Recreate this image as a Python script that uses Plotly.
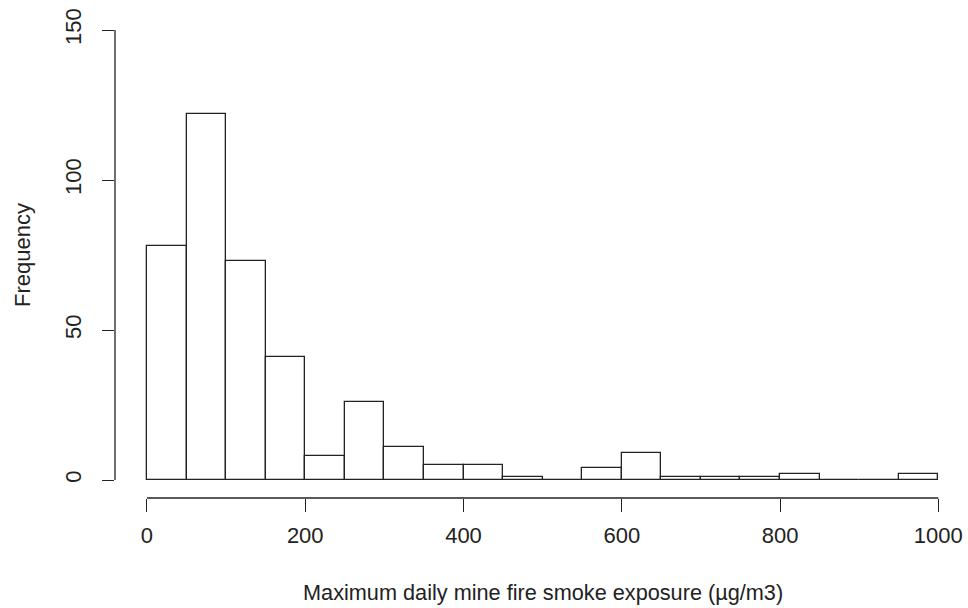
import plotly.graph_objects as go

bin_starts = [0, 50, 100, 150, 200, 250, 300, 350, 400, 450,
              500, 550, 600, 650, 700, 750, 800, 850, 900, 950]
bin_width = 50
counts = [78, 122, 73, 41, 8, 26, 11, 5, 5, 1,
          0, 4, 9, 1, 1, 1, 2, 0, 0, 2]
x_ticks = [0, 200, 400, 600, 800, 1000]
y_ticks = [0, 50, 100, 150]
x_title = "Maximum daily mine fire smoke exposure (µg/m3)"
y_title = "Frequency"

FONT = "Liberation Sans, Arial, sans-serif"
LINE = "#222222"
FS = 22

centers = [s + bin_width / 2 for s in bin_starts]

fig = go.Figure()
fig.add_trace(go.Bar(
    x=centers, y=counts, width=bin_width,
    marker=dict(color="white", line=dict(color=LINE, width=1.3)),
    hoverinfo="x+y", showlegend=False,
))

fig.update_layout(
    width=968, height=608,
    margin=dict(l=115, r=0, t=13, b=110),
    paper_bgcolor="white", plot_bgcolor="white",
    font=dict(family=FONT, size=FS, color="#222222"),
    bargap=0,
    xaxis=dict(range=[-40.4, 1037.5], tickvals=x_ticks, ticks="outside",
               ticklen=13, tickcolor=LINE, tickwidth=1.3, showgrid=False,
               zeroline=False, showline=False, ticklabelstandoff=5,
               tickfont=dict(size=FS, family=FONT, color="#222222")),
    yaxis=dict(range=[-6, 155.67], tickvals=y_ticks, ticks="outside",
               ticklen=12, tickcolor=LINE, tickwidth=1.3, showgrid=False,
               zeroline=False, showline=False, tickangle=-90,
               ticklabelstandoff=12,
               tickfont=dict(size=FS, family=FONT, color="#222222")),
    shapes=[
        dict(type="line", xref="x", yref="paper", x0=0, x1=1000, y0=0, y1=0,
             line=dict(color=LINE, width=1.3)),
        dict(type="line", xref="paper", yref="y", x0=0, x1=0, y0=0, y1=150,
             line=dict(color=LINE, width=1.3)),
    ],
    annotations=[
        dict(text=x_title, xref="x", yref="paper", x=500, y=0, yshift=-94,
             showarrow=False, xanchor="center", yanchor="middle",
             font=dict(size=21.7, family=FONT, color="#222222")),
        dict(text=y_title, xref="paper", yref="y", x=0, xshift=-93, y=75,
             showarrow=False, xanchor="center", yanchor="middle", textangle=-90,
             font=dict(size=FS, family=FONT, color="#222222")),
    ],
)

fig.write_html("out.html", config={"displayModeBar": False},
               post_script="document.body.style.margin='0';document.body.style.overflow='hidden';")
